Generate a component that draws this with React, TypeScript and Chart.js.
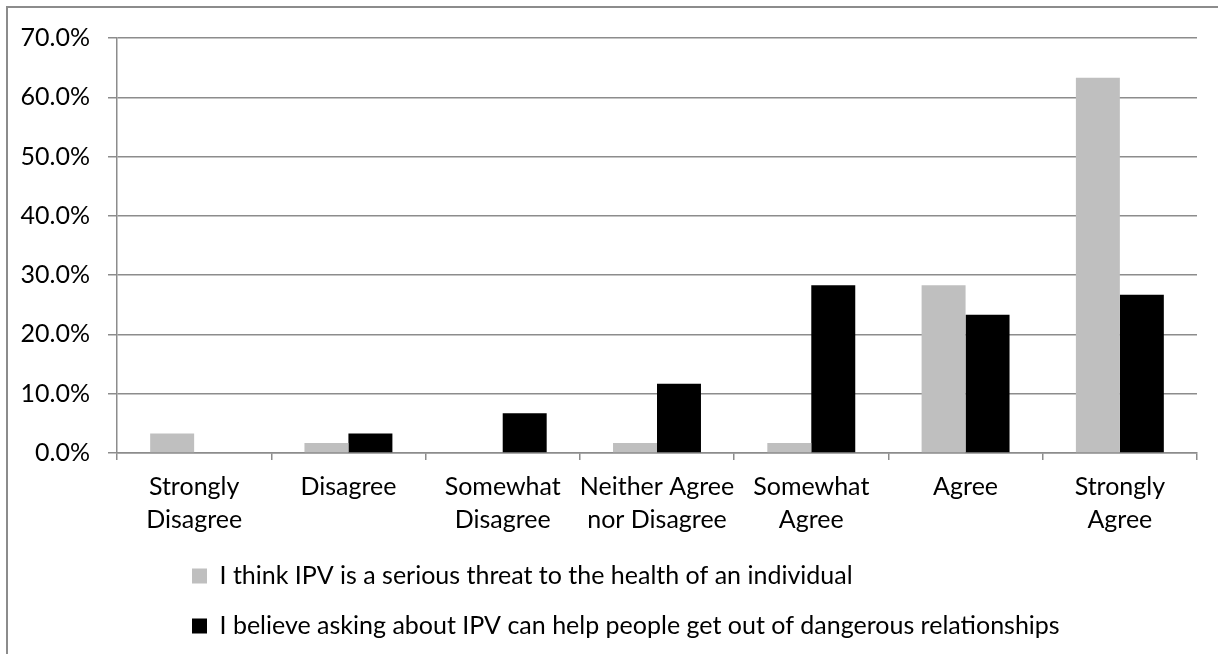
import React, { useEffect, useRef } from "react";
import { Chart, registerables } from "chart.js";

Chart.register(...registerables);

const categories: (string | string[])[] = [
  ["Strongly", "Disagree"],
  "Disagree",
  ["Somewhat", "Disagree"],
  ["Neither Agree", "nor Disagree"],
  ["Somewhat", "Agree"],
  "Agree",
  ["Strongly", "Agree"],
];

const seriesNames = [
  "I think IPV is a serious threat to the health of an individual",
  "I believe asking about IPV can help people get out of dangerous relationships",
];

const threatValues = [3.3, 1.7, 0, 1.7, 1.7, 28.3, 63.3];
const askingValues = [0, 3.3, 6.7, 11.7, 28.3, 23.3, 26.7];

const yMin = 0;
const yMax = 70;
const yStep = 10;

const GRID = "#8c8c8c";
const FONT = "Lato";

const legendShift = {
  id: "legendShift",
  afterLayout(chart: any) {
    const lg = chart.legend;
    if (lg) {
      lg.left += 167;
      lg.right += 167;
      lg.top += 1;
      lg.bottom += 1;
    }
  },
};

export default function App() {
  const ref = useRef<HTMLCanvasElement | null>(null);

  useEffect(() => {
    if (!ref.current) return;
    const chart = new Chart(ref.current, {
      type: "bar",
      data: {
        labels: categories,
        datasets: [
          {
            label: seriesNames[0],
            data: threatValues,
            backgroundColor: "#bfbfbf",
            borderWidth: 0,
            categoryPercentage: 0.57,
            barPercentage: 1,
          },
          {
            label: seriesNames[1],
            data: askingValues,
            backgroundColor: "#000000",
            borderWidth: 0,
            categoryPercentage: 0.57,
            barPercentage: 1,
          },
        ],
      },
      options: {
        responsive: false,
        animation: false,
        devicePixelRatio: 1,
        layout: { padding: { left: 0, top: 38, right: 21, bottom: 6.5 } },
        plugins: {
          tooltip: { enabled: false },
          legend: {
            position: "bottom",
            align: "start",
            labels: {
              boxWidth: 15,
              boxHeight: 15,
              padding: 25,
              color: "#000",
              font: { family: FONT, size: 25 },
            },
          },
        },
        scales: {
          x: {
            offset: true,
            grid: {
              offset: true,
              drawOnChartArea: false,
              drawTicks: true,
              tickLength: 7,
              color: GRID,
              lineWidth: 1.5,
            },
            border: { color: GRID, width: 1.5 },
            ticks: {
              color: "#000",
              padding: 10,
              maxRotation: 0,
              autoSkip: false,
              font: { family: FONT, size: 25, lineHeight: 1.32 },
            },
            afterFit(scale: any) {
              scale.height = 84.5;
            },
          },
          y: {
            min: yMin,
            max: yMax,
            grid: {
              color: GRID,
              lineWidth: 1.5,
              drawTicks: true,
              tickLength: 9,
            },
            border: { color: GRID, width: 1.5 },
            ticks: {
              stepSize: yStep,
              color: "#000",
              padding: 18,
              font: { family: FONT, size: 25 },
              callback: (v: any) => Number(v).toFixed(1) + "%",
            },
            afterFit(scale: any) {
              scale.width = 117;
            },
          },
        },
      },
      plugins: [legendShift],
    });
    return () => chart.destroy();
  }, []);

  return (
    <div
      style={{
        position: "fixed",
        left: 0,
        top: 0,
        width: 1218,
        height: 654,
        overflow: "hidden",
        background: "#fff",
      }}
    >
      <div
        style={{
          position: "absolute",
          left: 6,
          top: 6,
          width: 1400,
          height: 800,
          borderLeft: "2px solid #8c8c8c",
          borderTop: "2px solid #8c8c8c",
        }}
      />
      <canvas
        ref={ref}
        width={1218}
        height={654}
        style={{ position: "absolute", left: 0, top: 0, width: 1218, height: 654 }}
      />
    </div>
  );
}
